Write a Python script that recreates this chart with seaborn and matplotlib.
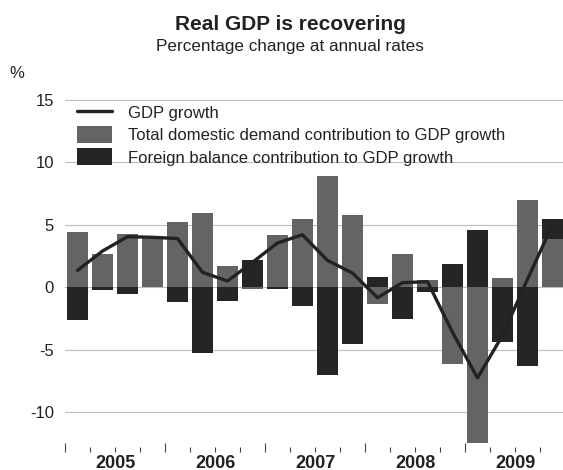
import numpy as np
import pandas as pd
import matplotlib
matplotlib.use("Agg")
import matplotlib.pyplot as plt
import matplotlib.transforms as mtransforms
from matplotlib.lines import Line2D
from matplotlib.patches import Patch
import seaborn as sns

# ---- data ----
years = ["2005", "2006", "2007", "2008", "2009"]
quarters = [f"{y}Q{q}" for y in years for q in range(1, 5)]
domestic = [4.4, 2.7, 4.25, 4.05, 5.25, 5.95, 1.7, -0.1, 4.15, 5.5,
            8.9, 5.8, -1.35, 2.7, 0.58, -6.1, -12.45, 0.72, 7.0, 3.9]
foreign = [-2.6, -0.25, -0.5, 0.0, -1.2, -5.25, -1.1, 2.15, -0.1, -1.5,
           -7.05, -4.5, 0.8, -2.5, -0.4, 1.86, 4.58, -4.4, -6.3, 1.55]
gdp = [1.35, 2.9, 4.05, 4.0, 3.9, 1.2, 0.5, 2.0, 3.55, 4.2,
       2.15, 1.14, -0.83, 0.37, 0.45, -3.6, -7.25, -3.85, 0.65, 5.0]

labels = ["GDP growth",
          "Total domestic demand contribution to GDP growth",
          "Foreign balance contribution to GDP growth"]

sns.set_theme(style="white")
plt.rcParams["font.family"] = ["Liberation Sans", "DejaVu Sans"]

GREY = "#646464"
DARK = "#252525"
TXT = "#222222"

W, H = 563, 470
fig = plt.figure(figsize=(W / 100, H / 100), dpi=100)
ax_top, ax_bot, ax_left, ax_right = 90, 452, 65, 565
ax = fig.add_axes([ax_left / W, 1 - ax_bot / H, (ax_right - ax_left) / W, (ax_bot - ax_top) / H])

df = pd.DataFrame({"quarter": quarters, "domestic": domestic,
                   "foreign": foreign, "gdp": gdp})
df["pos"] = np.arange(len(df))

dom = np.array(domestic)
fbottom = np.where(np.array(foreign) >= 0, np.where(dom > 0, dom, 0), np.where(dom < 0, dom, 0))

sns.barplot(data=df, x="quarter", y="domestic", order=quarters, color=GREY,
            saturation=1, width=0.84, errorbar=None, linewidth=0, ax=ax, zorder=2)
ax.bar(df["pos"], df["foreign"], bottom=fbottom, width=0.84, color=DARK,
       linewidth=0, zorder=2)
sns.lineplot(data=df, x="pos", y="gdp", color=TXT, linewidth=2.4, ax=ax,
             zorder=3, sort=False)

zero = 287.3
ppu = 12.5
ax.set_ylim((zero - ax_bot) / ppu, (zero - ax_top) / ppu)
ax.set_xlim(-0.5, len(quarters) - 0.5)
ax.set_yticks([-10, -5, 0, 5, 10, 15])
ax.set_yticklabels(["-10", "-5", "0", "5", "10", "15"])
ax.yaxis.grid(True, color="#bdbdbd", linewidth=0.8, zorder=0)
ax.xaxis.grid(False)
ax.set_axisbelow(True)
for s in ax.spines.values():
    s.set_visible(False)
ax.tick_params(axis="y", left=False, length=0, pad=8, labelsize=12, labelcolor=TXT)

ax.set_xticks(np.arange(-0.5, len(quarters), 4))
ax.set_xticks(np.arange(-0.5, len(quarters), 1), minor=True)
ax.tick_params(axis="x", which="major", bottom=True, direction="in", length=6.5,
               width=0.8, color="#444444", labelbottom=False)
ax.tick_params(axis="x", which="minor", bottom=True, direction="in", length=3.6,
               width=0.8, color="#444444", labelbottom=False)
ax.set_xlabel("")
ax.set_ylabel("")

trans = mtransforms.blended_transform_factory(ax.transData, ax.transAxes)
for i, y in enumerate(years):
    ax.text(i * 4 + 1.5, -11 / (ax_bot - ax_top), y, transform=trans,
            ha="center", va="center", fontsize=13, fontweight="bold", color=TXT)

handles = [Line2D([0], [0], color=TXT, linewidth=2.4),
           Patch(facecolor=GREY, edgecolor="none"),
           Patch(facecolor=DARK, edgecolor="none")]
ax.legend(handles, labels, loc="upper left",
          bbox_to_anchor=(77 / W, 1 - 104 / H), bbox_transform=fig.transFigure,
          frameon=False, fontsize=12, handlelength=2.1, handleheight=1.2,
          handletextpad=0.95, labelspacing=0.3, borderpad=0, borderaxespad=0,
          labelcolor=TXT)

fig.text(290 / W, 1 - 24 / H, "Real GDP is recovering", ha="center", va="center",
         fontsize=15, fontweight="bold", color=TXT)
fig.text(290 / W, 1 - 46.5 / H, "Percentage change at annual rates", ha="center",
         va="center", fontsize=12.3, color=TXT)
fig.text(17 / W, 1 - 74 / H, "%", ha="center", va="center", fontsize=12, color=TXT)

fig.savefig("out.png", dpi=100)
